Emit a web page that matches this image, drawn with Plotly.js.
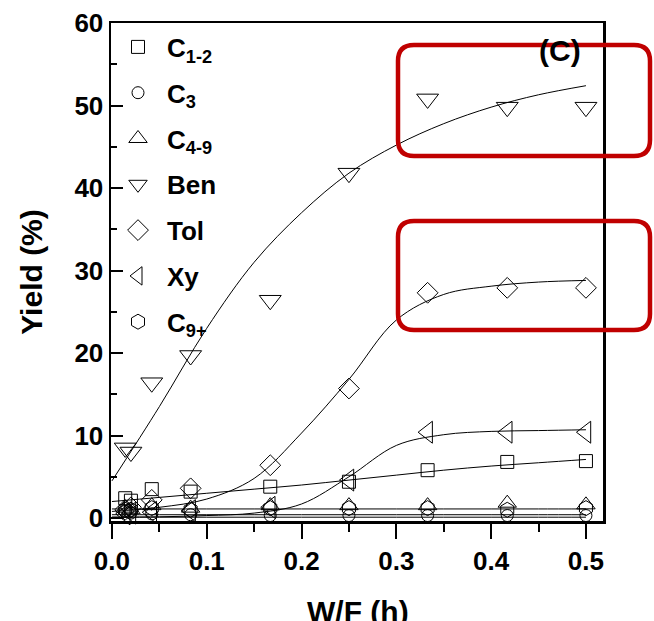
<!DOCTYPE html>
<html>
<head>
<meta charset="utf-8">
<script src="https://cdn.plot.ly/plotly-3.0.1.min.js"></script>
<style>
  html, body { margin: 0; padding: 0; background: #fff; }
  #chart { width: 654px; height: 621px; }
</style>
</head>
<body>
<div id="chart"></div>
<script>
// ---- data ----
const wf = [0.014, 0.02, 0.042, 0.083, 0.167, 0.25, 0.333, 0.417, 0.5];
const c12 = [2.4, 2.1, 3.5, 3.2, 3.8, 4.4, 5.8, 6.8, 6.9];
const c3 = [0.8, 0.6, 0.5, 0.4, 0.3, 0.3, 0.3, 0.3, 0.3];
const c49 = [1.2, 1.0, 1.5, 1.2, 1.5, 1.5, 1.5, 1.8, 1.6];
const ben = [8.5, 8.0, 16.4, 19.7, 26.4, 41.8, 50.8, 49.8, 49.8];
const tol = [1.0, 1.3, 2.2, 3.6, 6.4, 15.7, 27.3, 27.9, 27.9];
const xy = [0.5, 0.6, 0.7, 0.9, 1.3, 4.6, 10.4, 10.4, 10.4];
const c9 = [1.0, 1.0, 1.2, 1.0, 1.2, 1.2, 1.2, 1.0, 1.2];

// fitted curves
const fitX = [0, 0.05, 0.1, 0.15, 0.2, 0.25, 0.3, 0.35, 0.4, 0.45, 0.5];
const benFit = [4.5, 13.5, 23, 31, 37, 41.8, 45.2, 47.8, 49.8, 51.3, 52.4];
const tolFit = [0.8, 1.3, 2.3, 4.8, 10.3, 16.8, 24, 27.1, 28.1, 28.6, 28.8];
const xyFit = [0.1, 0.15, 0.3, 0.6, 1.7, 5.0, 8.8, 10.1, 10.5, 10.6, 10.7];
const c12Fit = [2.0, 2.5, 3.0, 3.5, 4.0, 4.6, 5.2, 5.8, 6.3, 6.7, 7.1];
const c49Fit = [1.1, 1.1, 1.1, 1.1, 1.1, 1.1, 1.1, 1.1, 1.1, 1.1, 1.1];
const c9Fit = [0.4, 0.4, 0.4, 0.4, 0.4, 0.4, 0.4, 0.4, 0.4, 0.4, 0.4];
const c3Fit = [0.1, 0.1, 0.1, 0.1, 0.1, 0.1, 0.1, 0.1, 0.1, 0.1, 0.1];

const names = ['C<sub>1-2</sub>', 'C<sub>3</sub>', 'C<sub>4-9</sub>', 'Ben', 'Tol', 'Xy', 'C<sub>9+</sub>'];
const series = [c12, c3, c49, ben, tol, xy, c9];
const fits = [c12Fit, c3Fit, c49Fit, benFit, tolFit, xyFit, c9Fit];
const symbols = ['square-open', 'circle-open', 'triangle-up-open', 'triangle-down-open', 'diamond-open', 'triangle-left-open', 'hexagon-open'];
const sizes = [13, 12, 16, 19, 16, 19, 15];

const traces = [];
for (let i = 0; i < fits.length; i++) {
  traces.push({
    x: fitX, y: fits[i], mode: 'lines', type: 'scatter',
    line: {color: '#000', width: 1, shape: 'spline', smoothing: 1},
    showlegend: false, hoverinfo: 'skip'
  });
}
for (let i = 0; i < series.length; i++) {
  traces.push({
    x: wf, y: series[i], mode: 'markers', type: 'scatter', name: names[i],
    legendgroup: 'g' + i,
    marker: {symbol: symbols[i], size: sizes[i], color: '#000', line: {color: '#000', width: 1}},
    cliponaxis: false
  });
}

// plot area geometry (pixels)
const L = 111, R = 51, T = 23, B = 100, W = 654, H = 621;
const pw = W - L - R, ph = H - T - B;
function px2x(p) { return (p - L) / pw; }
function px2y(p) { return (H - B - p) / ph; }
function roundRect(x0, y0, x1, y1, r) {
  const X = px2x, Y = px2y;
  return 'M' + X(x0 + r) + ',' + Y(y0) +
    ' L' + X(x1 - r) + ',' + Y(y0) +
    ' Q' + X(x1) + ',' + Y(y0) + ' ' + X(x1) + ',' + Y(y0 + r) +
    ' L' + X(x1) + ',' + Y(y1 - r) +
    ' Q' + X(x1) + ',' + Y(y1) + ' ' + X(x1 - r) + ',' + Y(y1) +
    ' L' + X(x0 + r) + ',' + Y(y1) +
    ' Q' + X(x0) + ',' + Y(y1) + ' ' + X(x0) + ',' + Y(y1 - r) +
    ' L' + X(x0) + ',' + Y(y0 + r) +
    ' Q' + X(x0) + ',' + Y(y0) + ' ' + X(x0 + r) + ',' + Y(y0) + ' Z';
}

const font = {family: 'Liberation Sans, Arial, sans-serif', color: '#000', weight: 'bold'};

const layout = {
  width: W, height: H,
  margin: {l: L, r: R, t: T, b: B, pad: 0},
  paper_bgcolor: '#fff', plot_bgcolor: '#fff',
  showlegend: true,
  legend: {
    x: px2x(109), y: 0.999, xanchor: 'left', yanchor: 'top',
    bgcolor: 'rgba(0,0,0,0)', borderwidth: 0,
    font: Object.assign({}, font, {size: 26}),
    tracegroupgap: 9, itemwidth: 48
  },
  xaxis: {
    range: [-0.001, 0.518], showgrid: false, zeroline: false,
    showline: true, linecolor: '#000', linewidth: 2.5, mirror: true,
    ticks: 'outside', ticklen: 15, tickwidth: 2, tickcolor: '#000',
    tickvals: [0, 0.1, 0.2, 0.3, 0.4, 0.5], ticktext: ['0.0', '0.1', '0.2', '0.3', '0.4', '0.5'],
    minor: {tickvals: [0.05, 0.15, 0.25, 0.35, 0.45], ticks: 'outside', ticklen: 8, tickwidth: 2, tickcolor: '#000'},
    tickfont: Object.assign({}, font, {size: 26})
  },
  yaxis: {
    range: [-0.36, 60], showgrid: false, zeroline: false,
    showline: true, linecolor: '#000', linewidth: 2.5, mirror: true,
    ticks: 'inside', ticklen: 12, tickwidth: 2, tickcolor: '#000',
    tickvals: [0, 10, 20, 30, 40, 50, 60],
    minor: {tickvals: [5, 15, 25, 35, 45, 55], ticks: 'inside', ticklen: 6, tickwidth: 2, tickcolor: '#000'},
    tickfont: Object.assign({}, font, {size: 26}),
    title: {text: 'Yield (%)', font: Object.assign({}, font, {size: 30}), standoff: 23}
  },
  annotations: [{
    text: '(C)', xref: 'paper', yref: 'paper', x: px2x(560), y: px2y(50),
    xanchor: 'center', yanchor: 'middle', showarrow: false,
    font: Object.assign({}, font, {size: 30})
  }, {
    text: 'W/F (h)', xref: 'paper', yref: 'paper', x: px2x(358), y: px2y(611),
    xanchor: 'center', yanchor: 'middle', showarrow: false,
    font: Object.assign({}, font, {size: 30})
  }],
  shapes: [
    {type: 'path', xref: 'paper', yref: 'paper', path: roundRect(398, 45, 650, 156, 16),
     line: {color: '#c00000', width: 4.5}, layer: 'above'},
    {type: 'path', xref: 'paper', yref: 'paper', path: roundRect(398, 221, 650, 330, 16),
     line: {color: '#c00000', width: 4.5}, layer: 'above'}
  ]
};

Plotly.newPlot('chart', traces, layout, {displayModeBar: false, staticPlot: true});
</script>
</body>
</html>
